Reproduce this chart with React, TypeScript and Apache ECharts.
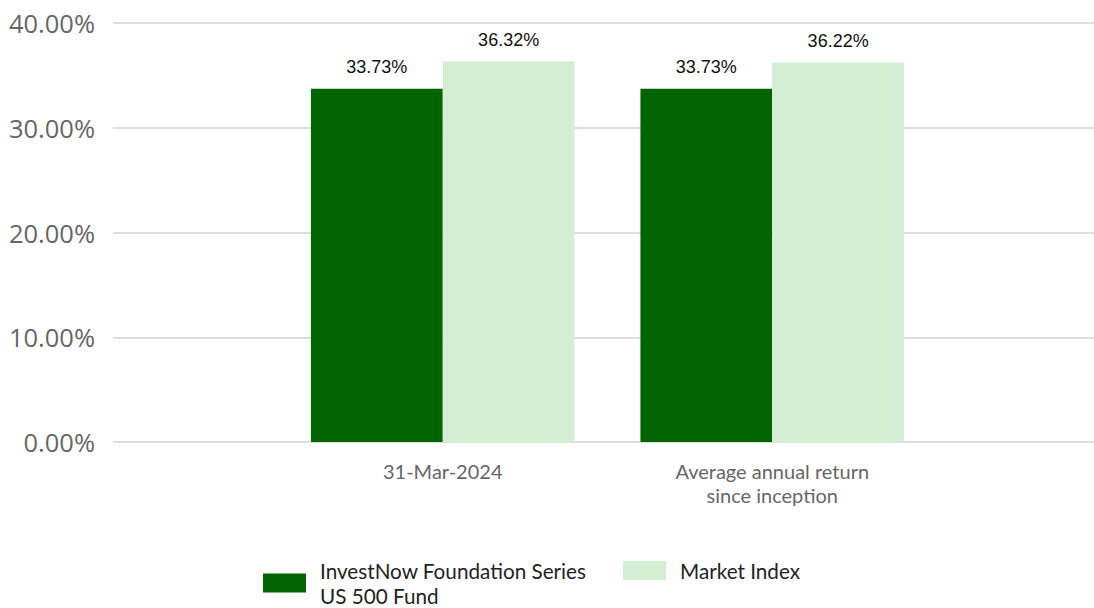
import React, { useEffect, useRef } from "react";
import * as echarts from "echarts";

const categories = ["31-Mar-2024", "Average annual return\nsince inception"];
const fundName = "InvestNow Foundation Series\nUS 500 Fund";
const indexName = "Market Index";
const fundValues = [33.73, 33.73];
const indexValues = [36.32, 36.22];
const yTicks = { min: 0, max: 40, interval: 10 };

export default function App() {
  const ref = useRef<HTMLDivElement>(null);
  useEffect(() => {
    const chart = echarts.init(ref.current!, null, { renderer: "svg" });
    const labelStyle = {
      show: true,
      position: "top" as const,
      distance: 13,
      fontFamily: "Liberation Sans",
      fontSize: 18,
      color: "#111",
      formatter: (p: any) => p.value.toFixed(2) + "%",
    };
    const legendText = {
      fontFamily: "Lato",
      fontSize: 20.7,
      color: "#222",
      lineHeight: 25,
      padding: [0, 0, 0, 9],
    };
    chart.setOption({
      animation: false,
      grid: [
        { left: 113, right: 0, top: 23, bottom: 166 },
        { left: 278, right: 157, top: 23, bottom: 166 },
      ],
      xAxis: [
        { type: "category", gridIndex: 0, data: [], show: false },
        {
          type: "category",
          gridIndex: 1,
          data: categories,
          axisLine: { show: false },
          axisTick: { show: false },
          axisLabel: {
            fontFamily: "Lato",
            fontSize: 20,
            color: "#666",
            lineHeight: 24,
            margin: 17,
          },
        },
      ],
      yAxis: [
        {
          type: "value",
          gridIndex: 0,
          min: yTicks.min,
          max: yTicks.max,
          interval: yTicks.interval,
          axisLine: { show: false },
          axisTick: { show: false },
          splitLine: { lineStyle: { color: "#dedede", width: 2 } },
          axisLabel: {
            fontFamily: "Open Sans",
            fontSize: 25.5,
            color: "#666",
            margin: 18,
            formatter: (v: number) => v.toFixed(2) + "%",
          },
        },
        {
          type: "value",
          gridIndex: 1,
          min: yTicks.min,
          max: yTicks.max,
          interval: yTicks.interval,
          show: false,
          splitLine: { show: false },
        },
      ],
      legend: [
        {
          data: [fundName],
          left: 263,
          top: 558,
          padding: 0,
          itemWidth: 43,
          itemHeight: 19,
          icon: "rect",
          textStyle: legendText,
        },
        {
          data: [indexName],
          left: 623,
          top: 558,
          padding: 0,
          itemWidth: 43,
          itemHeight: 19,
          icon: "rect",
          textStyle: legendText,
        },
      ],
      series: [
        {
          name: fundName,
          type: "bar",
          xAxisIndex: 1,
          yAxisIndex: 1,
          data: fundValues,
          barGap: "0%",
          barCategoryGap: "20%",
          itemStyle: { color: "#006400" },
          label: labelStyle,
        },
        {
          name: indexName,
          type: "bar",
          xAxisIndex: 1,
          yAxisIndex: 1,
          data: indexValues,
          barGap: "0%",
          barCategoryGap: "20%",
          itemStyle: { color: "#d3eed3" },
          label: labelStyle,
        },
      ],
    });
    return () => chart.dispose();
  }, []);
  return <div ref={ref} style={{ width: 1094, height: 608, position: "absolute", left: 0, top: 0 }} />;
}
